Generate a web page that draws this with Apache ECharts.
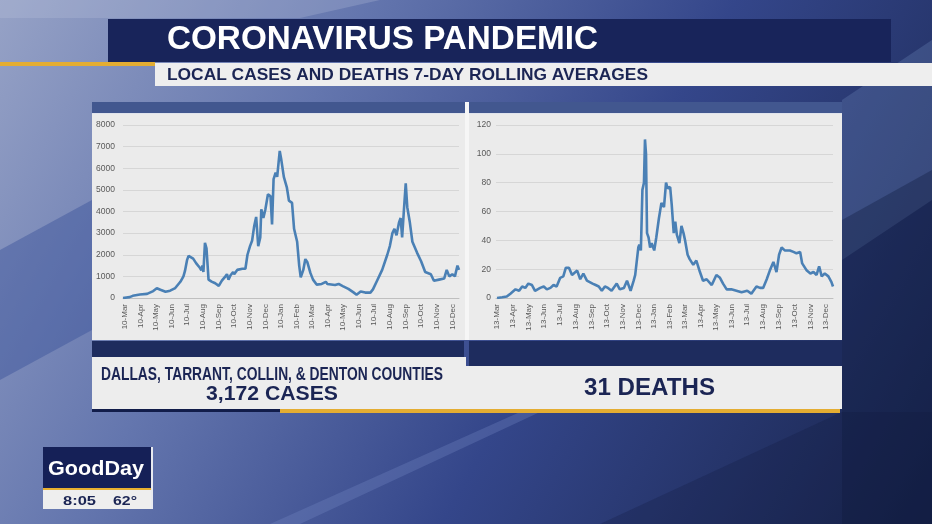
<!DOCTYPE html>
<html>
<head>
<meta charset="utf-8">
<script src="https://cdn.jsdelivr.net/npm/echarts@6/dist/echarts.min.js"></script>
<style>
html,body{margin:0;padding:0;background:#2a3a70;}
#main{width:932px;height:524px;}
</style>
</head>
<body>
<div id="main"></div>
<script>
// ---- Data ----
const caseDates = ['2020-03-07','2020-03-20','2020-03-26','2020-04-09','2020-04-23','2020-05-05','2020-05-12','2020-05-19','2020-05-29','2020-06-07','2020-06-17','2020-06-27','2020-07-03','2020-07-06','2020-07-10','2020-07-13','2020-07-22','2020-07-28','2020-08-04','2020-08-07','2020-08-09','2020-08-11','2020-08-14','2020-08-17','2020-08-21','2020-08-27','2020-09-03','2020-09-10','2020-09-16','2020-09-23','2020-09-26','2020-09-29','2020-10-03','2020-10-08','2020-10-10','2020-10-16','2020-10-26','2020-11-01','2020-11-05','2020-11-10','2020-11-14','2020-11-18','2020-11-22','2020-11-26','2020-11-30','2020-12-02','2020-12-06','2020-12-10','2020-12-15','2020-12-20','2020-12-23','2020-12-26','2020-12-30','2021-01-02','2021-01-07','2021-01-10','2021-01-15','2021-01-21','2021-01-25','2021-01-31','2021-02-04','2021-02-10','2021-02-14','2021-02-17','2021-02-22','2021-02-26','2021-03-02','2021-03-08','2021-03-13','2021-03-20','2021-03-30','2021-04-07','2021-04-10','2021-04-25','2021-05-02','2021-05-10','2021-05-21','2021-05-31','2021-06-06','2021-06-14','2021-06-23','2021-07-03','2021-07-08','2021-07-16','2021-07-26','2021-08-05','2021-08-10','2021-08-15','2021-08-19','2021-08-23','2021-08-28','2021-08-31','2021-09-03','2021-09-06','2021-09-10','2021-09-13','2021-09-18','2021-09-23','2021-10-02','2021-10-10','2021-10-18','2021-10-29','2021-11-04','2021-11-14','2021-11-24','2021-11-29','2021-12-04','2021-12-10','2021-12-15','2021-12-20','2021-12-23'];
const caseValues = [0,40,100,160,190,320,450,380,290,340,460,750,1000,1250,1750,1950,1820,1600,1400,1280,1500,1200,2550,2300,850,760,680,560,800,1000,1100,850,1050,1200,1100,1300,1350,1350,2000,2400,2650,3300,3750,2400,2800,4100,3700,4100,4800,4700,3400,5500,5800,5600,6800,6400,5600,5100,4500,4400,3200,2600,1500,950,1300,1800,1650,1150,850,620,650,750,650,600,650,550,420,260,150,300,250,250,400,800,1300,2000,2400,3000,3200,2900,3500,3700,2800,3900,5300,4200,3500,2600,2100,1700,1200,1100,800,850,900,1300,1000,1100,1000,1500,1300];

const deathDates = ['2020-03-13','2020-03-23','2020-04-01','2020-04-08','2020-04-18','2020-04-25','2020-05-01','2020-05-07','2020-05-13','2020-05-20','2020-05-26','2020-06-05','2020-06-12','2020-06-18','2020-06-25','2020-07-01','2020-07-07','2020-07-14','2020-07-20','2020-07-25','2020-07-31','2020-08-06','2020-08-16','2020-08-22','2020-08-28','2020-09-04','2020-09-15','2020-09-21','2020-09-27','2020-10-03','2020-10-09','2020-10-15','2020-10-22','2020-11-01','2020-11-07','2020-11-15','2020-11-21','2020-11-28','2020-12-04','2020-12-07','2020-12-13','2020-12-15','2020-12-18','2020-12-21','2020-12-24','2020-12-26','2020-12-28','2020-12-30','2021-01-02','2021-01-05','2021-01-08','2021-01-13','2021-01-17','2021-01-22','2021-01-27','2021-02-01','2021-02-05','2021-02-08','2021-02-13','2021-02-16','2021-02-20','2021-02-23','2021-02-26','2021-03-03','2021-03-07','2021-03-11','2021-03-14','2021-03-19','2021-03-23','2021-03-30','2021-04-05','2021-04-12','2021-04-18','2021-04-25','2021-05-05','2021-05-14','2021-05-21','2021-05-27','2021-06-03','2021-06-12','2021-06-22','2021-07-02','2021-07-13','2021-07-21','2021-07-31','2021-08-07','2021-08-13','2021-08-20','2021-08-26','2021-09-02','2021-09-08','2021-09-13','2021-09-18','2021-09-24','2021-10-04','2021-10-11','2021-10-17','2021-10-24','2021-10-28','2021-11-06','2021-11-13','2021-11-19','2021-11-25','2021-11-30','2021-12-05','2021-12-11','2021-12-18','2021-12-24','2021-12-27'];
const deathValues = [0,0.5,1,3,6,5,8,7,10,9,5,7,8,6,7,9,8,14,15,21,21,16,19,13,17,12,10,9,8,5,8,7,5,10,6,7,12,5,12,16,35,37,33,75,80,110,100,45,42,35,38,33,42,55,66,63,80,76,77,65,45,53,44,38,50,45,40,30,27,23,26,18,12,13,9,16,14,10,6,6,5,4,5,3,8,7,7,13,19,25,18,30,35,33,33,32,31,32,24,19,17,18,16,22,15,17,15,11,8];

const caseRange = ['2020-03-07','2021-12-23'];
const deathRange = ['2020-03-11','2021-12-27'];
const caseTickDay = 10;
const deathTickDay = 13;
const caseYTicks = {max: 8000, interval: 1000};
const deathYTicks = {max: 120, interval: 20};
const monthNames = ['Jan','Feb','Mar','Apr','May','Jun','Jul','Aug','Sep','Oct','Nov','Dec'];

const titleText = 'CORONAVIRUS PANDEMIC';
const subtitleText = 'LOCAL CASES AND DEATHS 7-DAY ROLLING AVERAGES';
const leftLabel1 = 'DALLAS, TARRANT, COLLIN, & DENTON COUNTIES';
const leftLabel2 = '3,172 CASES';
const rightLabel = '31 DEATHS';

// ---- helpers ----
function dayList(range){
  const p = s => { const a = s.split('-').map(Number); return Date.UTC(a[0], a[1]-1, a[2]); };
  const out = [];
  for (let t = p(range[0]); t <= p(range[1]); t += 86400000){
    const d = new Date(t);
    out.push(d.getUTCFullYear() + '-' + String(d.getUTCMonth()+1).padStart(2,'0') + '-' + String(d.getUTCDate()).padStart(2,'0'));
  }
  return out;
}
const caseDays = dayList(caseRange);
const deathDays = dayList(deathRange);
function pairs(days, dates, values){
  return dates.map((d,i) => [days.indexOf(d), values[i]]);
}
function tickLabel(v){ const a = v.split('-'); return Number(a[2]) + '-' + monthNames[Number(a[1])-1]; }

const mctx = document.createElement('canvas').getContext('2d');
function fitScale(text, font, w){ mctx.font = font; return w / mctx.measureText(text).width; }
function fitText(text, size, x, yMid, w, color, family){
  const font = 'bold ' + size + 'px ' + (family || '"Liberation Sans"');
  return { type:'text', x:x, y:yMid, scaleX: fitScale(text, font, w), z: 50,
    style:{ text:text, font:font, fill:color, verticalAlign:'middle', align:'left' } };
}
function rect(x,y,w,h,fill,z){ return { type:'rect', shape:{x:x,y:y,width:w,height:h}, style:{fill:fill}, z: z==null?-5:z, silent:true }; }

const navy = '#18245a';
const textNavy = '#1b2554';
const yellow = '#e4ad32';
const panelGray = '#ebebeb';

const chart = echarts.init(document.getElementById('main'), null, {renderer:'canvas'});

const bgGradient = new echarts.graphic.LinearGradient(0,0,1,1,[
  {offset:0, color:'#96a2c6'},
  {offset:0.3, color:'#6476ae'},
  {offset:0.6, color:'#34468a'},
  {offset:1, color:'#18244c'}
]);

const graphics = [
  rect(0,0,932,524,bgGradient,-20),
  // decorative background shapes
  { type:'polygon', shape:{points:[[842,100],[932,40],[932,200],[842,260]]}, style:{fill:'rgba(110,135,185,0.3)'}, z:-19, silent:true },
  { type:'polygon', shape:{points:[[842,220],[932,170],[932,524],[842,524]]}, style:{fill:'rgba(15,25,60,0.35)'}, z:-19, silent:true },
  { type:'polygon', shape:{points:[[0,250],[92,200],[92,330],[0,380]]}, style:{fill:'rgba(50,75,150,0.4)'}, z:-19, silent:true },
  { type:'polygon', shape:{points:[[0,0],[380,0],[300,18],[0,18]]}, style:{fill:'rgba(190,200,225,0.25)'}, z:-19, silent:true },
  { type:'polygon', shape:{points:[[270,524],[520,412],[540,412],[300,524]]}, style:{fill:'rgba(120,140,200,0.3)'}, z:-19, silent:true },
  { type:'polygon', shape:{points:[[600,524],[842,412],[932,412],[932,524]]}, style:{fill:'rgba(15,25,60,0.25)'}, z:-19, silent:true },

  // header
  rect(108,19,783,43,navy,-4),
  rect(0,62,155,4,yellow,-4),
  rect(155,63,777,23,'#eeeeee',-4),
  fitText(titleText, 33, 167, 40, 431, '#ffffff'),
  fitText(subtitleText, 17, 167, 75, 481, textNavy),

  // chart panels
  rect(92,102,750,11,'#42578f',-4),
  rect(92,113,750,1,'#dfe3ec',-4),
  rect(92,114,373,226,panelGray,-4),
  rect(469,114,373,226,panelGray,-4),
  rect(465,102,4,238,'#f6f6f6',-4),
  rect(92,341,372,16,'#1e2c5e',-4),
  rect(469,341,373,25,'#1e2c5e',-4),
  rect(92,357,374,52,'#ededed',-4),
  rect(466,366,376,43,'#ededed',-4),
  rect(92,409,188,3,'#121d4a',-4),
  rect(280,409,560,4,yellow,-4),
  fitText(leftLabel1, 19, 101, 375, 342, textNavy),
  fitText(leftLabel2, 21, 206, 394.5, 132, textNavy),
  fitText(rightLabel, 23.5, 584, 388.5, 131, textNavy),

  // logo
  rect(43,447,108,41,'#152057',-4),
  rect(43,488,108,2.5,'#e8b030',-4),
  rect(43,490,108,19,'#eeeeee',-4),
  rect(151,447,2,62,'#e8eaf0',-4),
  fitText('GoodDay', 21, 48, 469, 96, '#ffffff'),
  fitText('8:05', 13, 63, 501.5, 33, textNavy),
  fitText('62°', 13, 113, 501.5, 24, textNavy)
];

function xAxisFor(days, tickDay, gridIndex){
  return {
    type:'category', gridIndex:gridIndex, data:days, boundaryGap:false,
    axisLine:{show:true, lineStyle:{color:'#bfbfbf', width:1}},
    axisTick:{show:false},
    axisLabel:{
      rotate:90, fontSize:8, color:'#595959', margin:6, fontFamily:'"Liberation Sans", Arial, sans-serif',
      interval:(idx, val) => Number(val.split('-')[2]) === tickDay,
      formatter:v => tickLabel(v)
    },
    splitLine:{show:false}
  };
}
function yAxisFor(t, gridIndex, margin){
  return {
    type:'value', gridIndex:gridIndex, min:0, max:t.max, interval:t.interval,
    axisLine:{show:false}, axisTick:{show:false},
    axisLabel:{fontSize:8.5, color:'#595959', margin:margin, fontFamily:'"Liberation Sans", Arial, sans-serif', formatter:v => String(v)},
    splitLine:{lineStyle:{color:'#d6d6d6', width:1}}
  };
}

const lineStyle = {color:'#4a80b5', width:2.6};

chart.setOption({
  animation:false,
  backgroundColor:'transparent',
  graphic:graphics,
  grid:[
    {left:123, top:125, width:336, height:173, containLabel:false},
    {left:496, top:125, width:337, height:173, containLabel:false}
  ],
  xAxis:[xAxisFor(caseDays, caseTickDay, 0), xAxisFor(deathDays, deathTickDay, 1)],
  yAxis:[yAxisFor(caseYTicks, 0, 8), yAxisFor(deathYTicks, 1, 5)],
  series:[
    {type:'line', xAxisIndex:0, yAxisIndex:0, data:pairs(caseDays, caseDates, caseValues), showSymbol:false, lineStyle:lineStyle, z:5},
    {type:'line', xAxisIndex:1, yAxisIndex:1, data:pairs(deathDays, deathDates, deathValues), showSymbol:false, lineStyle:lineStyle, z:5}
  ]
});
</script>
</body>
</html>
